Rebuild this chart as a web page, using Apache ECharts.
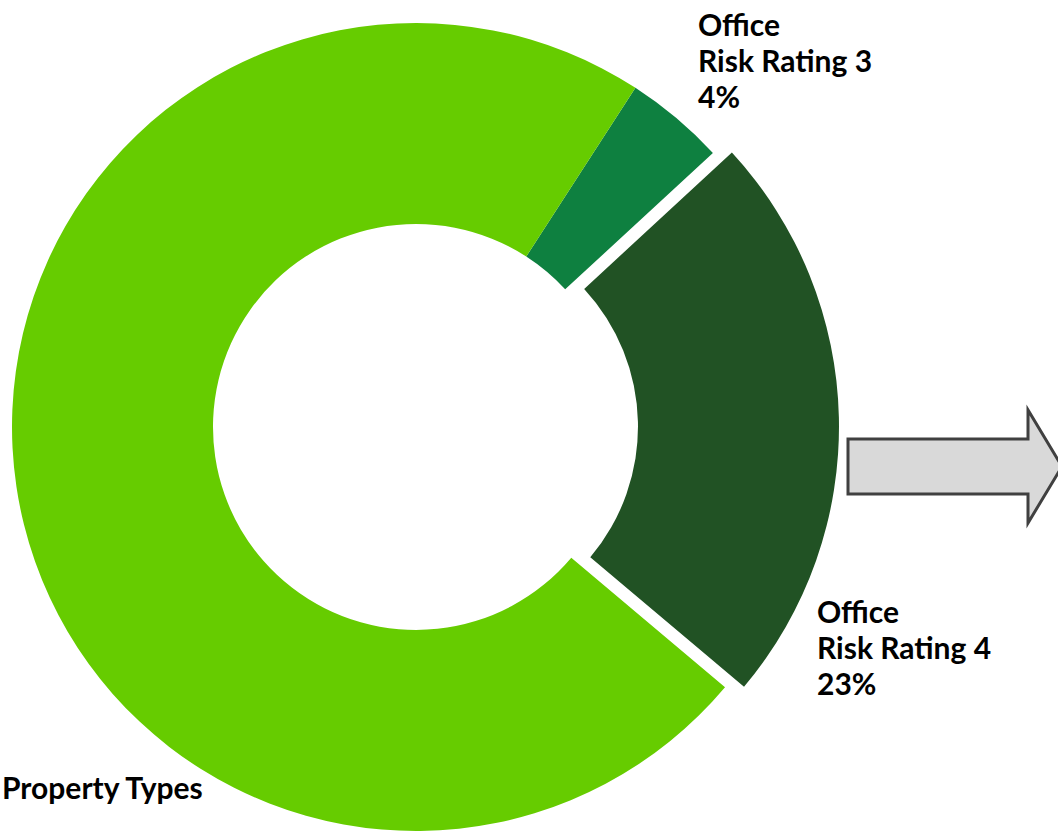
<!DOCTYPE html>
<html>
<head>
<meta charset="utf-8">
<script src="https://cdn.jsdelivr.net/npm/echarts@6/dist/echarts.min.js"></script>
<style>
html,body{margin:0;padding:0;background:#fff;}
#chart{width:1058px;height:833px;}
</style>
</head>
<body>
<div id="chart"></div>
<script>
// Data
var categories = ['Office\nRisk Rating 3', 'Office\nRisk Rating 4', 'Property Types'];
var values = [4, 23, 73];
var showPercent = [true, true, false];
var explodedIndex = 1;

var colors = ['#0E8040', '#215224', '#66CC00'];
var labelPos = [
  {x: 698, y: 6},
  {x: 817, y: 593},
  {x: 2, y: 769}
];

var total = values.reduce(function (a, b) { return a + b; }, 0);

var chart = echarts.init(document.getElementById('chart'), null, {renderer: 'svg'});
var seriesData = categories.map(function (c, i) {
  return {
    name: c,
    value: values[i],
    selected: i === explodedIndex,
    itemStyle: {color: colors[i]}
  };
});

var labelGraphics = categories.map(function (c, i) {
  var txt = showPercent[i] ? c + '\n' + Math.round(values[i] / total * 100) + '%' : c;
  return {
    type: 'text',
    x: labelPos[i].x,
    y: labelPos[i].y,
    silent: true,
    style: {
      text: txt,
      fill: '#000',
      font: 'bold 30px Lato',
      lineHeight: 36,
      align: 'left',
      verticalAlign: 'top'
    }
  };
});

chart.setOption({
  animation: false,
  series: [{
    type: 'pie',
    center: [416, 427],
    radius: [203, 404],
    startAngle: 57.1,
    clockwise: true,
    selectedMode: 'single',
    selectedOffset: 19,
    avoidLabelOverlap: false,
    silent: true,
    data: seriesData,
    label: {show: false},
    labelLine: {show: false},
    emphasis: {disabled: true}
  }],
  graphic: [{
    type: 'polygon',
    shape: {
      points: [[848, 439], [1028, 439], [1028, 410], [1062, 466.5], [1028, 523], [1028, 494], [848, 494]]
    },
    style: {fill: '#D9D9D9', stroke: '#404040', lineWidth: 3}
  }].concat(labelGraphics)
});
</script>
</body>
</html>
